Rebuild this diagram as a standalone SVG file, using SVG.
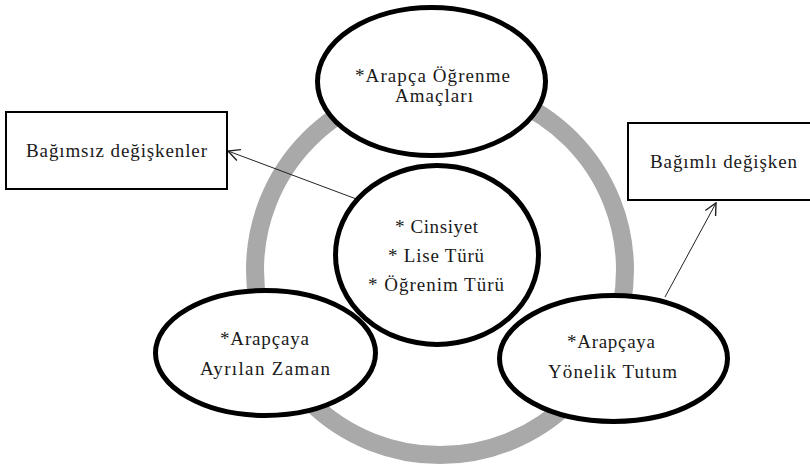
<svg xmlns="http://www.w3.org/2000/svg" width="810" height="467" viewBox="0 0 810 467">
  <style>
    .ring { fill: none; stroke: #a9a9a9; stroke-width: 18; }
    .fill { fill: #ffffff; stroke: none; }
    .node { fill: none; stroke: #000000; stroke-width: 5; }
    .box { fill: #ffffff; stroke: #000000; stroke-width: 2; }
    .t { font-family: "Liberation Serif", "DejaVu Serif", serif; font-size: 19px; fill: #1a1a1a; text-anchor: middle; }
    .conn { stroke: #222222; stroke-width: 1; fill: none; }
  </style>
  <defs>
    <marker id="arrow" markerUnits="userSpaceOnUse" markerWidth="14" markerHeight="14" viewBox="0 0 12 12" refX="11" refY="6" orient="auto">
      <path d="M1,1 L11,6 L1,11" fill="none" stroke="#222222" stroke-width="1.2"/>
    </marker>
  </defs>
  <rect x="0" y="0" width="810" height="467" fill="#ffffff"/>

  <g id="backdrop">
    <circle class="ring" cx="440" cy="270" r="185"/>
    <ellipse class="fill" cx="431.5" cy="81.5" rx="114" ry="74"/>
    <ellipse class="fill" cx="437" cy="255" rx="101.5" ry="89.5"/>
    <ellipse class="fill" cx="265.5" cy="353" rx="110" ry="62.5"/>
    <ellipse class="fill" cx="613.5" cy="358.5" rx="114" ry="63"/>
  </g>

  <g id="connectors">
    <line class="conn" x1="359" y1="200" x2="228" y2="151" marker-end="url(#arrow)"/>
    <line class="conn" x1="665" y1="297" x2="716" y2="203" marker-end="url(#arrow)"/>
  </g>

  <g id="node-amaclari">
    <ellipse class="node" cx="431.5" cy="81.5" rx="114" ry="74"/>
    <text class="t" x="432.5" y="82" textLength="155">*Arapça Öğrenme</text>
    <text class="t" x="434" y="102" textLength="78">Amaçları</text>
  </g>

  <g id="node-center">
    <ellipse class="node" cx="437" cy="255" rx="101.5" ry="89.5"/>
    <text class="t" x="436.5" y="233" textLength="83">* Cinsiyet</text>
    <text class="t" x="436" y="262" textLength="96">* Lise Türü</text>
    <text class="t" x="436" y="291" textLength="136">* Öğrenim Türü</text>
  </g>

  <g id="node-zaman">
    <ellipse class="node" cx="265.5" cy="353" rx="110" ry="62.5"/>
    <text class="t" x="264.5" y="345" textLength="89">*Arapçaya</text>
    <text class="t" x="265" y="375" textLength="130">Ayrılan Zaman</text>
  </g>

  <g id="node-tutum">
    <ellipse class="node" cx="613.5" cy="358.5" rx="114" ry="63"/>
    <text class="t" x="611" y="348" textLength="88">*Arapçaya</text>
    <text class="t" x="612.5" y="378" textLength="129">Yönelik Tutum</text>
  </g>

  <g id="box-bagimsiz">
    <rect class="box" x="6" y="112" width="221" height="77"/>
    <text class="t" x="116.5" y="157" textLength="181">Bağımsız değişkenler</text>
  </g>

  <g id="box-bagimli">
    <rect class="box" x="628" y="123" width="195" height="77"/>
    <text class="t" x="723.5" y="168" textLength="147">Bağımlı değişken</text>
  </g>
</svg>
